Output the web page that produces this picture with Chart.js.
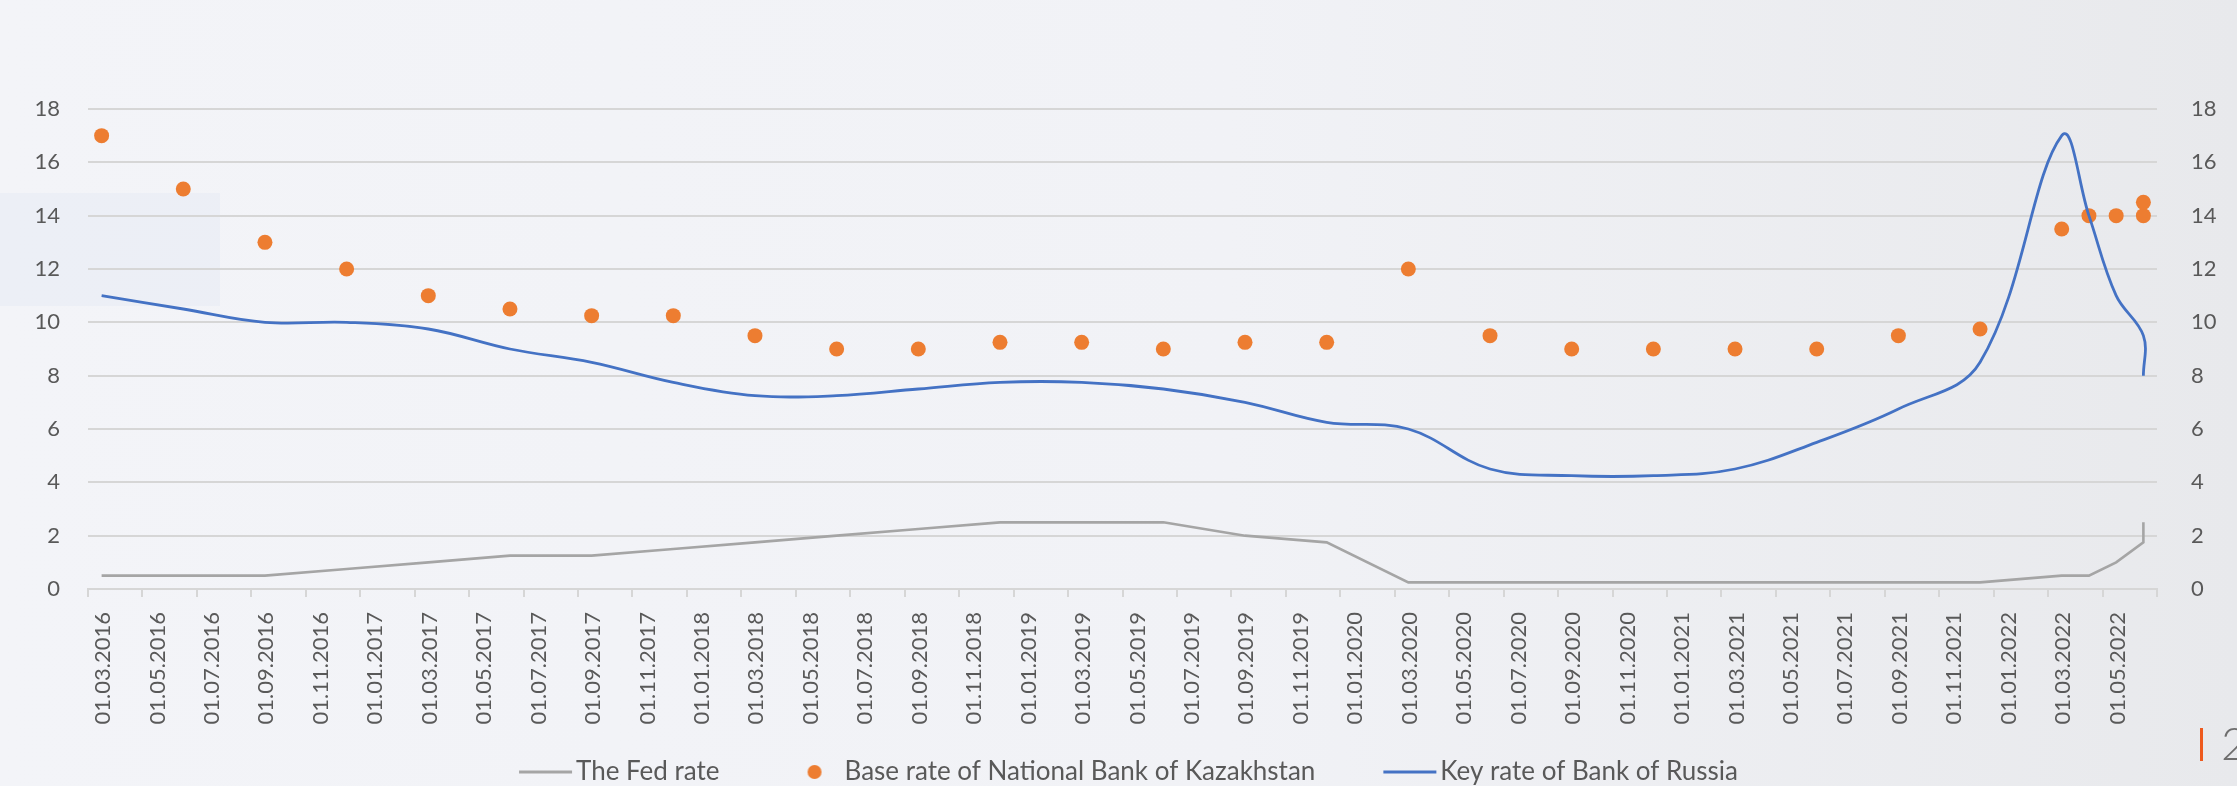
<!DOCTYPE html>
<html><head><meta charset="utf-8">
<script src="https://cdn.jsdelivr.net/npm/chart.js@4.4.1/dist/chart.umd.min.js"></script>
<style>
html,body{margin:0;padding:0;}
body{width:2237px;height:786px;overflow:hidden;position:relative;background:linear-gradient(to right,#F3F4F8 0%,#F1F2F6 55%,#E8E9EC 100%);font-family:Lato,sans-serif;}
#patch{position:absolute;left:0;top:193px;width:220px;height:113px;background:rgba(222,229,242,0.3);}
#wrap{position:absolute;left:0;top:0;width:2237px;height:786px;}
#bar{position:absolute;left:2200px;top:728px;width:3px;height:33px;background:#EE5A1E;}
#pg{position:absolute;left:2221px;top:720px;font:300 46px/46px Lato,sans-serif;color:#6E6E6E;}
</style></head>
<body>
<div id="patch"></div>
<div id="wrap"><canvas id="c"></canvas></div>
<div id="bar"></div><div id="pg">2</div>
<script>
const dates = ["01.03.2016","01.06.2016","01.09.2016","01.12.2016","01.03.2017","01.06.2017","01.09.2017","01.12.2017",
  "01.03.2018","01.06.2018","01.09.2018","01.12.2018","01.03.2019","01.06.2019","01.09.2019","01.12.2019",
  "01.03.2020","01.06.2020","01.09.2020","01.12.2020","01.03.2021","01.06.2021","01.09.2021","01.12.2021",
  "01.03.2022","01.04.2022","01.05.2022","01.06.2022","15.06.2022"];
const fedRate = [0.5,0.5,0.5,0.75,1.0,1.25,1.25,1.5,1.75,2.0,2.25,2.5,2.5,2.5,2.0,1.75,0.25,0.25,0.25,0.25,0.25,0.25,0.25,0.25,0.5,0.5,1.0,1.75,2.5];
const kzRate = [17,15,13,12,11,10.5,10.25,10.25,9.5,9,9,9.25,9.25,9,9.25,9.25,12,9.5,9,9,9,9,9.5,9.75,13.5,14,14,14,14.5];
const ruRate = [11,10.5,10,10,9.75,9,8.5,7.75,7.25,7.25,7.5,7.75,7.75,7.5,7,6.25,6,4.5,4.25,4.25,4.5,5.5,6.75,8.5,17,14,11,9.5,8];
const xTickLabels = ["01.03.2016","01.05.2016","01.07.2016","01.09.2016","01.11.2016",
  "01.01.2017","01.03.2017","01.05.2017","01.07.2017","01.09.2017","01.11.2017",
  "01.01.2018","01.03.2018","01.05.2018","01.07.2018","01.09.2018","01.11.2018",
  "01.01.2019","01.03.2019","01.05.2019","01.07.2019","01.09.2019","01.11.2019",
  "01.01.2020","01.03.2020","01.05.2020","01.07.2020","01.09.2020","01.11.2020",
  "01.01.2021","01.03.2021","01.05.2021","01.07.2021","01.09.2021","01.11.2021",
  "01.01.2022","01.03.2022","01.05.2022"];
const seriesNames = ["The Fed rate","Base rate of National Bank of Kazakhstan","Key rate of Bank of Russia"];
const seriesColors = ["#A5A5A5","#ED7D31","#4472C4"];

function monthIndex(s){ const p = s.split('.').map(Number); return (p[2]-2016)*12 + (p[1]-3); }
const toXY = arr => arr.map((v,i)=>({x: monthIndex(dates[i]), y: v}));
const tickValues = xTickLabels.map(l => monthIndex(l) - 0.5);
tickValues.push(tickValues[tickValues.length-1] + 2);

function legendImg(kind, color){
  const c = document.createElement('canvas'); c.width = 240; c.height = 30;
  const g = c.getContext('2d');
  if (kind === 'line'){ g.strokeStyle = color; g.lineWidth = 3; g.beginPath(); g.moveTo(128,15); g.lineTo(181,15); g.stroke(); }
  else { g.fillStyle = color; g.beginPath(); g.arc(155,15,7,0,Math.PI*2); g.fill(); }
  return c;
}
const legendImgs = [legendImg('line',seriesColors[0]), legendImg('dot',seriesColors[1]), legendImg('line',seriesColors[2])];

Chart.defaults.font.family = 'Lato, sans-serif';
new Chart(document.getElementById('c'), {
  type: 'line',
  data: { datasets: [
    { label: seriesNames[0], data: toXY(fedRate), borderColor: seriesColors[0], borderWidth: 2.6, pointRadius: 0, tension: 0, fill: false, order: 2 },
    { label: seriesNames[1], data: toXY(kzRate), showLine: false, pointRadius: 7.5, pointBorderWidth: 0, pointBackgroundColor: seriesColors[1], borderColor: seriesColors[1], order: 1 },
    { label: seriesNames[2], data: toXY(ruRate), borderColor: seriesColors[2], borderWidth: 2.8, pointRadius: 0, tension: 0.38, fill: false, order: 0 }
  ]},
  options: {
    responsive: true, maintainAspectRatio: false, animation: false, events: [],
    layout: { padding: { top: 109, bottom: -9, left: -40, right: 0 } },
    scales: {
      x: { type: 'linear', position: 'bottom', min: -0.5, max: 75.5,
        afterBuildTicks(s){ s.ticks = tickValues.map(v => ({value: v})); },
        ticks: { autoSkip: false, maxRotation: 90, minRotation: 90, padding: 15, labelOffset: 15, color: '#595959', font: { size: 22 },
          callback: (v, i) => (xTickLabels[i] !== undefined ? xTickLabels[i] : '') },
        grid: { drawOnChartArea: false, drawTicks: true, tickLength: 8, color: '#D6D6D6', lineWidth: 2 },
        border: { display: true, color: '#D6D6D6', width: 2 },
        afterFit(s){ s.height = 162; }
      },
      y: { position: 'left', min: 0, max: 18,
        ticks: { stepSize: 2, padding: 28, color: '#595959', font: { size: 22 } },
        grid: { color: '#D6D6D6', lineWidth: 2, drawTicks: false },
        border: { display: false },
        afterFit(s){ s.width = 128; }
      },
      y2: { position: 'right', min: 0, max: 18,
        ticks: { stepSize: 2, padding: 26, color: '#595959', font: { size: 22 } },
        grid: { display: false },
        border: { display: false },
        afterFit(s){ s.width = 80; }
      }
    },
    plugins: {
      tooltip: { enabled: false },
      legend: { position: 'bottom',
        labels: { usePointStyle: true, pointStyleWidth: 104, padding: 8, color: '#595959', font: { size: 26 },
          generateLabels: () => seriesNames.map((n, i) => ({ text: n, datasetIndex: i, pointStyle: legendImgs[i], fillStyle: 'rgba(0,0,0,0)', strokeStyle: 'rgba(0,0,0,0)', lineWidth: 0, hidden: false, fontColor: '#595959' }))
        }
      }
    }
  }
});
</script>
</body></html>
